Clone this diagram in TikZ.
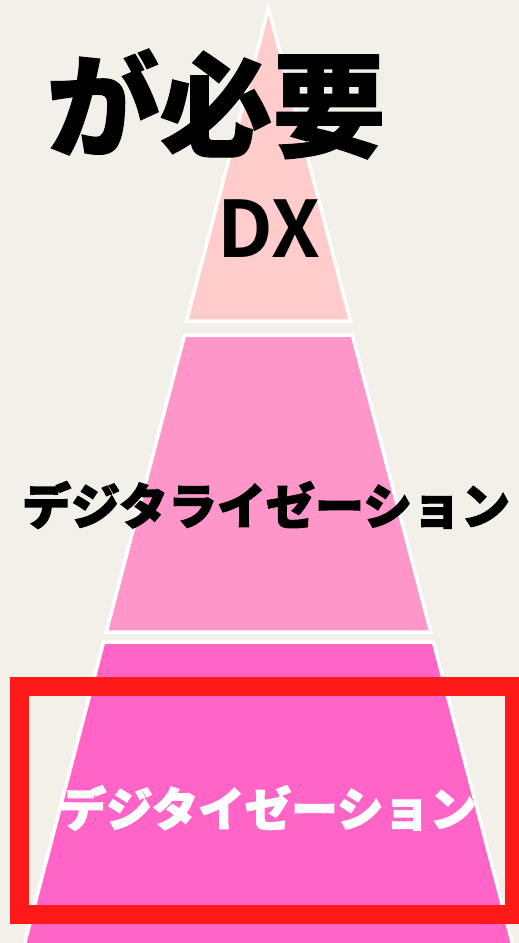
\documentclass[tikz,border=0pt]{standalone}
\usepackage{fontspec}
\newfontfamily\jp{Noto Sans CJK JP}[BoldFont={Noto Sans CJK JP Bold}]
\newfontfamily\jpblack{Noto Sans CJK JP Black}[FakeBold=1]
\newfontfamily\jpheavy{Noto Sans CJK JP Black}[FakeBold=2.5]
\definecolor{bgc}{RGB}{242,240,232}
\definecolor{tierA}{RGB}{255,204,204}
\definecolor{tierB}{RGB}{255,150,202}
\definecolor{tierC}{RGB}{255,100,198}
\definecolor{boxred}{RGB}{255,26,26}
\tikzset{
  tier/.style={draw=white,line width=3.5pt,line join=miter},
  lbl/.style={inner sep=0pt,font=\jp},
}
\begin{document}
\begin{tikzpicture}[x=1pt,y=-1pt]
\useasboundingbox (0,0) rectangle (519,943);
\clip (0,0) rectangle (519,943);
\fill[bgc] (0,0) rectangle (519,943);
% pyramid tiers (half width = 0.262*(y-8), centre x = 268.5)
\filldraw[tier,fill=tierA] (268.5,8) -- (350.5,321) -- (186.5,321) -- cycle;
\filldraw[tier,fill=tierB] (184.6,335) -- (352.4,335) -- (430.8,632) -- (106.2,632) -- cycle;
\filldraw[tier,fill=tierC] (103.6,642) -- (433.4,642) -- (517,961) -- (20,961) -- cycle;
% texts
\node[lbl,font=\jpblack\fontsize{113}{113}\selectfont] (need) at (216,104) {が必要};
\node[lbl,font=\jp\bfseries\fontsize{78}{78}\selectfont] (dx) at (269,229) {DX};
\node[lbl,font=\jpheavy\fontsize{49}{49}\selectfont] (digz) at (266,505) {デジタライゼーション};
% red frame
\node[draw=boxred,line width=19pt,minimum width=495pt,minimum height=228pt,inner sep=0pt] (frame) at (266.5,800.5) {};
\node[lbl,text=white,font=\jpheavy\fontsize{46.5}{46.5}\selectfont] (digt) at (268,808) {デジタイゼーション};
\end{tikzpicture}
\end{document}
